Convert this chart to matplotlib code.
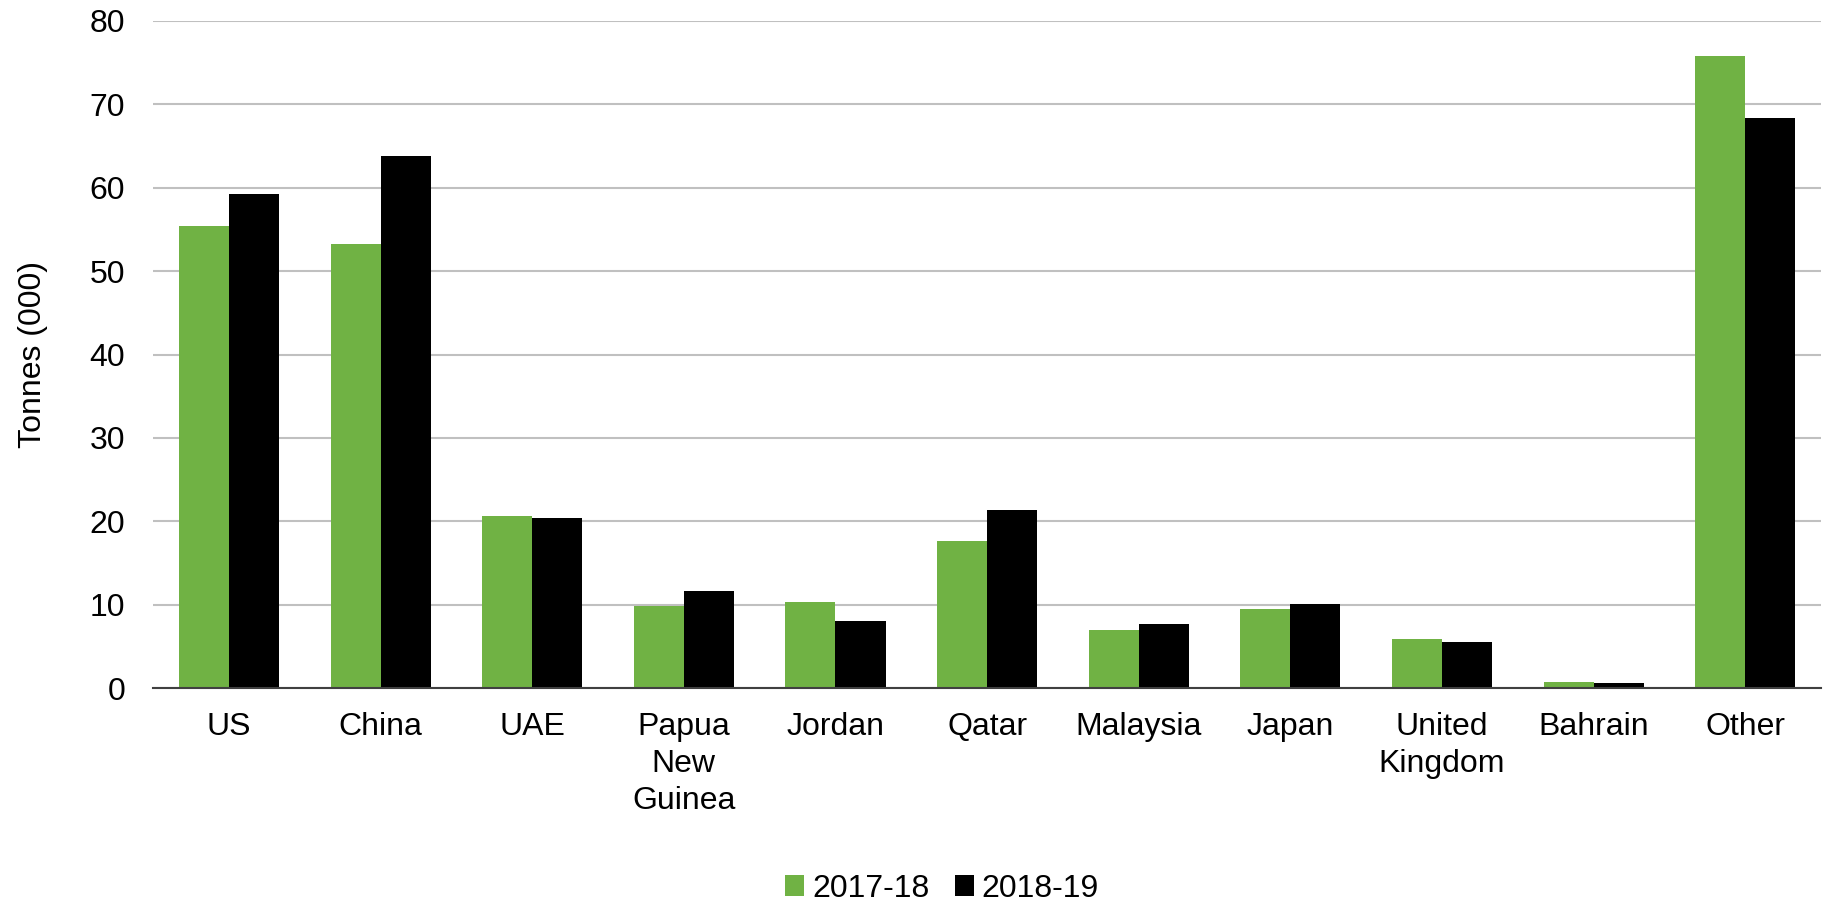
import numpy as np
import matplotlib.pyplot as plt

# -------------------
# Data (tonnes, 000)
# -------------------
countries = ["US", "China", "UAE", "Papua\nNew\nGuinea", "Jordan", "Qatar",
             "Malaysia", "Japan", "United\nKingdom", "Bahrain", "Other"]
y2017_18 = [55.4, 53.3, 20.6, 9.8, 10.3, 17.6, 7.0, 9.5, 5.9, 0.7, 75.8]
y2018_19 = [59.3, 63.8, 20.4, 11.6, 8.1, 21.4, 7.7, 10.1, 5.5, 0.6, 68.3]
series_labels = ["2017-18", "2018-19"]

GREEN = "#70B244"
FS = 23
plt.rcParams["font.family"] = ["Liberation Sans", "DejaVu Sans"]

fig = plt.figure(figsize=(18.29, 9.09), dpi=100)
ax = fig.add_axes([0.0837, 0.243, 0.912, 0.734])

x = np.arange(len(countries))
w = 0.33
ax.bar(x - w / 2, y2017_18, w, color=GREEN, label=series_labels[0], zorder=3)
ax.bar(x + w / 2, y2018_19, w, color="black", label=series_labels[1], zorder=3)

ax.set_xlim(-0.5, len(countries) - 0.5)
ax.set_ylim(0, 80)
ax.set_yticks(range(0, 81, 10))
ax.set_xticks(x)
ax.set_xticklabels(countries, linespacing=1.3)
ax.tick_params(axis="both", length=0, labelsize=FS)
ax.tick_params(axis="y", pad=20)
ax.tick_params(axis="x", pad=17)

ax.grid(axis="y", color="#C0C0C0", linewidth=1.5, zorder=0)
for side in ["top", "right", "left"]:
    ax.spines[side].set_visible(False)
ax.spines["bottom"].set_color("#404040")
ax.spines["bottom"].set_linewidth(1.5)
ax.spines["bottom"].set_zorder(4)

ax.set_ylabel("Tonnes (000)", fontsize=FS)
ax.yaxis.set_label_coords(-0.063, 0.5)

fig.legend(loc="lower center", bbox_to_anchor=(0.515, -0.026), ncol=2,
           frameon=False, fontsize=FS, handlelength=0.6, handleheight=0.6,
           handletextpad=0.25, columnspacing=0.8)

fig.savefig("out.png", dpi=100)
